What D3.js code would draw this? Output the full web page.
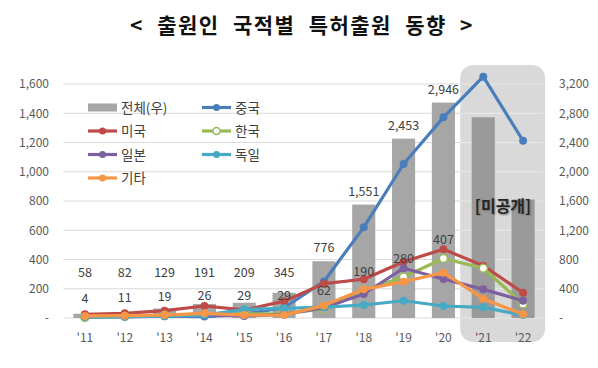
<!DOCTYPE html>
<html>
<head>
<meta charset="utf-8">
<script src="https://cdn.jsdelivr.net/npm/d3@7"></script>
<style>
  body { margin: 0; background: #fff; }
  svg { font-family: "Noto Sans CJK KR", "Noto Sans", sans-serif; }
</style>
</head>
<body>
<svg id="chart" width="598" height="368"></svg>
<script>
// data
const years = ["'11", "'12", "'13", "'14", "'15", "'16", "'17", "'18", "'19", "'20", "'21", "'22"];
const total = [58, 82, 129, 191, 209, 345, 776, 1551, 2453, 2946, 2745, 1620];
const china = [5, 8, 12, 10, 25, 70, 250, 620, 1053, 1372, 1650, 1212];
const usa = [25, 32, 50, 82, 55, 115, 235, 265, 385, 470, 358, 173];
const korea = [4, 11, 19, 26, 29, 29, 62, 190, 280, 407, 340, 96];
const japan = [10, 12, 15, 20, 14, 25, 70, 164, 340, 267, 196, 118];
const germany = [8, 10, 12, 20, 59, 66, 75, 89, 118, 82, 73, 20];
const others = [14, 16, 20, 32, 20, 20, 85, 196, 248, 310, 132, 25];
const leftTicks = [0, 200, 400, 600, 800, 1000, 1200, 1400, 1600];
const rightTicks = [0, 400, 800, 1200, 1600, 2000, 2400, 2800, 3200];
const labelCount = 10; // labels only up to '20
const hiddenYears = ["'21", "'22"];

const series = [
  { name: "중국", values: china, color: "#4a7ebb" },
  { name: "미국", values: usa, color: "#be4b48" },
  { name: "한국", values: korea, color: "#98b954", hollow: true },
  { name: "일본", values: japan, color: "#7d60a0" },
  { name: "독일", values: germany, color: "#46aac5" },
  { name: "기타", values: others, color: "#f79646" }
];

const svg = d3.select("#chart");
const margin = { top: 84, bottom: 318, left: 65, right: 543 };

const x = d3.scaleBand()
  .domain(years)
  .range([margin.left, margin.right])
  .paddingInner(0.42)
  .paddingOuter(0.21);
const yL = d3.scaleLinear().domain([0, 1600]).range([margin.bottom, margin.top]);
const yR = d3.scaleLinear().domain([0, 3200]).range([margin.bottom, margin.top]);
const cx = d => x(d) + x.bandwidth() / 2;
const fmt = v => v === 0 ? "-" : d3.format(",")(v);

// title
svg.append("text")
  .attr("x", 302).attr("y", 33)
  .attr("text-anchor", "middle")
  .attr("font-size", 21).attr("font-weight", "bold")
  .attr("letter-spacing", 1.5)
  .attr("word-spacing", 7)
  .attr("fill", "#111")
  .text("< 출원인 국적별 특허출원 동향 >");

// shaded "not public" block
const boxL = cx(hiddenYears[0]) - 23, boxR = cx(hiddenYears[1]) + 22;
svg.append("rect")
  .attr("x", boxL).attr("y", 65)
  .attr("width", boxR - boxL).attr("height", 277)
  .attr("rx", 13)
  .attr("fill", "#d9d9d9");

// gridlines
const grid = svg.append("g");
grid.selectAll("line.g")
  .data(leftTicks)
  .enter().append("line")
  .attr("x1", margin.left - 1).attr("x2", margin.right)
  .attr("y1", d => yL(d)).attr("y2", d => yL(d))
  .attr("stroke", "#d9d9d9").attr("stroke-width", 1.2);
grid.selectAll("line.h")
  .data(leftTicks)
  .enter().append("line")
  .attr("x1", boxL).attr("x2", margin.right)
  .attr("y1", d => yL(d)).attr("y2", d => yL(d))
  .attr("stroke", "#e8e8e8").attr("stroke-width", 1.2);

// axes
const axisL = svg.append("g")
  .attr("transform", `translate(${margin.left - 16},0)`)
  .call(d3.axisLeft(yL).tickValues(leftTicks).tickFormat(fmt).tickSize(0));
const axisR = svg.append("g")
  .attr("transform", `translate(${margin.right + 16},0)`)
  .call(d3.axisRight(yR).tickValues(rightTicks).tickFormat(fmt).tickSize(0));
const axisX = svg.append("g")
  .attr("transform", `translate(0,${margin.bottom + 12})`)
  .call(d3.axisBottom(x).tickSize(0));
[axisL, axisR, axisX].forEach(a => {
  a.select(".domain").remove();
  a.selectAll("text")
    .attr("font-size", 12)
    .attr("fill", "#595959")
    .attr("font-family", "\"Noto Sans CJK KR\", sans-serif");
});
axisL.selectAll("text").attr("x", 0);
axisR.selectAll("text").attr("x", 0);

// bars (right axis)
svg.append("g").selectAll("rect")
  .data(years)
  .enter().append("rect")
  .attr("x", d => x(d))
  .attr("width", x.bandwidth())
  .attr("y", (d, i) => yR(total[i]))
  .attr("height", (d, i) => margin.bottom - yR(total[i]))
  .attr("fill", d => hiddenYears.includes(d) ? "#9a9a9a" : "#a6a6a6");

// lines (left axis)
const line = d3.line()
  .x((v, i) => cx(years[i]))
  .y(v => yL(v));

series.forEach(s => {
  const g = svg.append("g");
  g.append("path")
    .datum(s.values)
    .attr("d", line)
    .attr("fill", "none")
    .attr("stroke", s.color)
    .attr("stroke-width", 3.2)
    .attr("stroke-linejoin", "round");
  g.selectAll("circle")
    .data(s.values)
    .enter().append("circle")
    .attr("cx", (v, i) => cx(years[i]))
    .attr("cy", v => yL(v))
    .attr("r", 4)
    .attr("fill", s.hollow ? "#fff" : s.color)
    .attr("stroke", s.color)
    .attr("stroke-width", s.hollow ? 1.5 : 0);
});

// total labels
svg.append("g").selectAll("text")
  .data(total.slice(0, labelCount))
  .enter().append("text")
  .attr("x", (v, i) => cx(years[i]))
  .attr("y", v => Math.min(yR(v) - 9, 277))
  .attr("text-anchor", "middle")
  .attr("font-size", 12.5)
  .attr("fill", "#404040")
  .text(d3.format(","));

// korea labels
svg.append("g").selectAll("text")
  .data(korea.slice(0, labelCount))
  .enter().append("text")
  .attr("x", (v, i) => cx(years[i]))
  .attr("y", v => yL(v) - 14)
  .attr("text-anchor", "middle")
  .attr("font-size", 12.5)
  .attr("fill", "#404040")
  .text(d3.format(","));

// [미공개]
svg.append("text")
  .attr("x", 503).attr("y", 212)
  .attr("text-anchor", "middle")
  .attr("font-size", 16).attr("font-weight", "bold")
  .attr("fill", "#262626")
  .style("text-shadow", "1px 1px 2px #777")
  .text("[미공개]");

// legend
const legendItems = [{ name: "전체(우)", bar: true }].concat(series);
const lg = svg.append("g").attr("font-size", 13.5).attr("fill", "#404040");
legendItems.forEach((d, i) => {
  const col = i % 2, row = Math.floor(i / 2);
  const lx = 88 + col * 114, ly = 107.5 + row * 23.5;
  const item = lg.append("g").attr("transform", `translate(${lx},${ly})`);
  if (d.bar) {
    item.append("rect").attr("x", 0).attr("y", -4).attr("width", 29).attr("height", 8).attr("fill", "#a6a6a6");
  } else {
    item.append("line").attr("x1", 0).attr("x2", 29).attr("y1", 0).attr("y2", 0)
      .attr("stroke", d.color).attr("stroke-width", 3.2);
    item.append("circle").attr("cx", 14.5).attr("cy", 0).attr("r", 3.5)
      .attr("fill", d.hollow ? "#fff" : d.color)
      .attr("stroke", d.color).attr("stroke-width", d.hollow ? 1.5 : 0);
  }
  item.append("text").attr("x", 33).attr("y", 5).text(d.name);
});
</script>
</body>
</html>
